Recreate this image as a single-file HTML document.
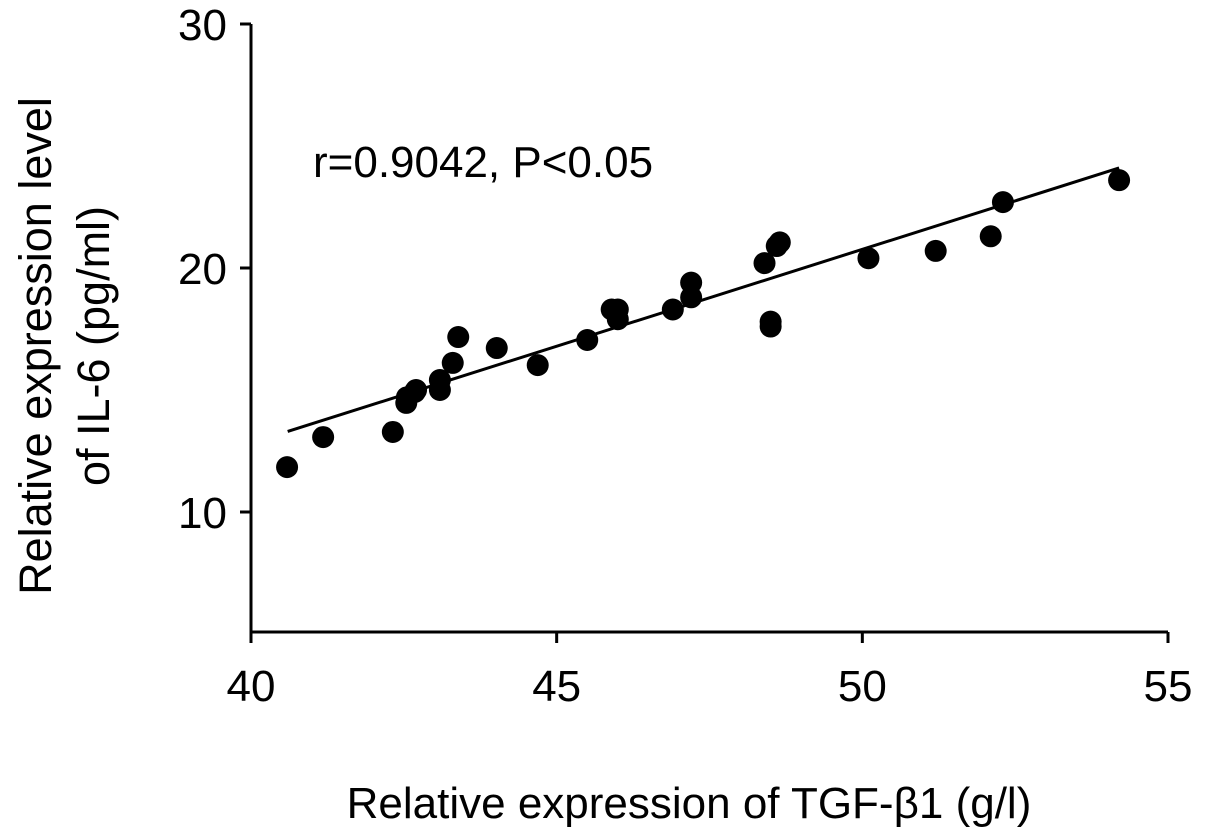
<!DOCTYPE html>
<html><head><meta charset="utf-8"><style>
body{margin:0;background:#fff;}
svg{display:block;font-family:"Liberation Sans",Arial,sans-serif;}
</style></head><body>
<svg id="chart" width="1205" height="840">
<g id="axes"></g><g id="marks"></g>
<text x="313" y="177" font-size="44">r=0.9042, P&lt;0.05</text>
<text x="689" y="818" font-size="44" text-anchor="middle">Relative expression of TGF-β1 (g/l)</text>
<text transform="translate(51,346) rotate(-90)" font-size="45" text-anchor="middle">Relative expression level</text>
<text transform="translate(109,346) rotate(-90)" font-size="45" text-anchor="middle">of IL-6 (pg/ml)</text>
</svg>
<script>
const xTicks=[40,45,50,55];
const yTicks=[10,20,30];
const xVals=[40.59,41.18,42.32,42.54,42.55,42.68,42.7,43.09,43.09,43.3,43.39,44.02,44.69,45.5,45.9,46.0,46.0,46.9,47.2,47.2,48.4,48.6,48.65,48.5,48.5,50.1,51.2,52.1,52.3,54.2];
const yVals=[11.84,13.07,13.28,14.47,14.7,14.92,15.0,15.41,15.0,16.11,17.17,16.72,16.02,17.05,18.3,18.3,17.9,18.3,19.4,18.8,20.2,20.9,21.05,17.8,17.6,20.4,20.7,21.3,22.7,23.6];
const fitLine=[[40.6,13.3],[54.2,24.1]];
const X=v=>251+(v-40)*(917/15);
const Y=v=>24+(30-v)*24.4;
const ns="http://www.w3.org/2000/svg";
const axes=document.getElementById('axes'),marks=document.getElementById('marks');
function mk(tag,attrs,parent){const e=document.createElementNS(ns,tag);for(const k in attrs)e.setAttribute(k,attrs[k]);parent.appendChild(e);return e;}
let e=mk('line',{x1:251,y1:Y(30),x2:251,y2:Y(5),stroke:'#000','stroke-width':3},axes);


e=mk('line',{x1:X(40),y1:632,x2:X(55),y2:632,stroke:'#000','stroke-width':3},axes);


yTicks.forEach(t=>{
 let l=mk('line',{x1:240,x2:251,y1:Y(t),y2:Y(t),stroke:'#000','stroke-width':3},axes);
 
 
 let s=mk('text',{x:227,y:Y(t)+16,'font-size':44,'text-anchor':'end'},axes);s.textContent=t;
 
 
});
xTicks.forEach(t=>{
 let l=mk('line',{x1:X(t),x2:X(t),y1:632,y2:643,stroke:'#000','stroke-width':3},axes);
 
 
 let s=mk('text',{x:X(t),y:701,'font-size':44,'text-anchor':'middle'},axes);s.textContent=t;
 
 
});
let fl=mk('line',{x1:X(fitLine[0][0]),y1:Y(fitLine[0][1]),x2:X(fitLine[1][0]),y2:Y(fitLine[1][1]),stroke:'#000','stroke-width':3},marks);


xVals.forEach((xv,i)=>{
 let c=mk('circle',{cx:X(xv),cy:Y(yVals[i]),r:11,fill:'#000'},marks);
 
 
});
</script>
</body></html>
